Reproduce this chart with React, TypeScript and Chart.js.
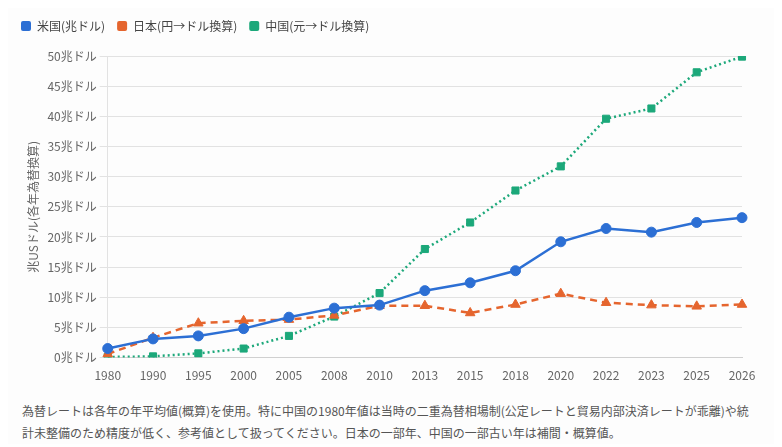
import React, { useEffect, useRef } from "react";
import { Chart, registerables } from "chart.js";

Chart.register(...registerables);

const years = ["1980", "1990", "1995", "2000", "2005", "2008", "2010", "2013", "2015", "2018", "2020", "2022", "2023", "2025", "2026"];
const usValues = [1.5, 3.1, 3.6, 4.8, 6.7, 8.2, 8.7, 11.1, 12.4, 14.4, 19.2, 21.4, 20.8, 22.4, 23.2];
const japanValues = [0.6, 3.3, 5.7, 6.1, 6.3, 7.0, 8.6, 8.6, 7.4, 8.8, 10.6, 9.1, 8.7, 8.5, 8.8];
const chinaValues = [0.1, 0.2, 0.7, 1.5, 3.6, 6.8, 10.7, 18.0, 22.4, 27.7, 31.7, 39.6, 41.3, 47.3, 49.9];
const seriesNames = ["米国(兆ドル)", "日本(円→ドル換算)", "中国(元→ドル換算)"];
const yAxisTitle = "兆USドル(各年為替換算)";
const tickSuffix = "兆ドル";
const footnote = "為替レートは各年の年平均値(概算)を使用。特に中国の1980年値は当時の二重為替相場制(公定レートと貿易内部決済レートが乖離)や統計未整備のため精度が低く、参考値として扱ってください。日本の一部年、中国の一部古い年は補間・概算値。";

const FONT = "'Noto Sans CJK JP', 'Noto Sans', sans-serif";
const BLUE = "#2c6fd4";
const ORANGE = "#e5652e";
const GREEN = "#1ca87a";
const COLORS = [BLUE, ORANGE, GREEN];

const legendMargin = {
  id: "legendMargin",
  beforeInit(chart: any) {
    const orig = chart.legend.fit;
    chart.legend.fit = function () {
      orig.bind(chart.legend)();
      this.height += 14;
    };
  },
};

export default function App() {
  const ref = useRef<HTMLCanvasElement | null>(null);

  useEffect(() => {
    if (!ref.current) return;
    Chart.defaults.font.family = FONT;
    const chart = new Chart(ref.current, {
      type: "line",
      data: {
        labels: years,
        datasets: [
          {
            label: seriesNames[0],
            data: usValues,
            borderColor: BLUE,
            backgroundColor: BLUE,
            borderWidth: 2.5,
            pointStyle: "circle",
            pointRadius: 5,
            pointBorderWidth: 1,
            pointBorderColor: BLUE,
            tension: 0,
          },
          {
            label: seriesNames[1],
            data: japanValues,
            borderColor: ORANGE,
            backgroundColor: ORANGE,
            borderWidth: 2.5,
            borderDash: [7, 5],
            pointStyle: "triangle",
            pointRadius: 5.5,
            pointBorderWidth: 1,
            pointBorderColor: ORANGE,
            tension: 0,
          },
          {
            label: seriesNames[2],
            data: chinaValues,
            borderColor: GREEN,
            backgroundColor: GREEN,
            borderWidth: 2.5,
            borderDash: [2, 3],
            pointStyle: "rect",
            pointRadius: 5,
            pointBorderWidth: 1,
            pointBorderColor: GREEN,
            tension: 0,
          },
        ],
      },
      plugins: [legendMargin],
      options: {
        animation: false,
        responsive: true,
        maintainAspectRatio: false,
        layout: { padding: { left: 1, right: 32, top: 0, bottom: 0 } },
        plugins: {
          legend: {
            position: "top",
            align: "start",
            labels: {
              boxWidth: 10,
              boxHeight: 10,
              useBorderRadius: true,
              borderRadius: 2,
              color: "#444",
              font: { size: 12, family: FONT },
              padding: 12,
              generateLabels: (c: any) =>
                c.data.datasets.map((ds: any, i: number) => ({
                  text: ds.label,
                  fillStyle: COLORS[i],
                  strokeStyle: COLORS[i],
                  lineWidth: 0,
                  lineDash: [],
                  hidden: false,
                  datasetIndex: i,
                  fontColor: "#444",
                  borderRadius: 2,
                })),
            },
          },
          tooltip: { enabled: false },
        },
        scales: {
          x: {
            grid: { display: false },
            border: { display: true, color: "#d0d0d0" },
            ticks: { color: "#666", font: { size: 12, family: FONT }, maxRotation: 0 },
          },
          y: {
            min: 0,
            max: 50,
            ticks: {
              stepSize: 5,
              color: "#666",
              font: { size: 12, family: FONT },
              callback: (v: any) => `${v}${tickSuffix}`,
            },
            grid: { color: "#e2e2e2", tickLength: 8 },
            border: { display: true, color: "#e2e2e2" },
            title: {
              display: true,
              text: yAxisTitle,
              color: "#666",
              font: { size: 12, family: FONT },
              padding: { top: 17, bottom: 4 },
            },
          },
        },
      },
    });
    return () => chart.destroy();
  }, []);

  return (
    <div style={{ background: "#fdfdfd", fontFamily: FONT }}>
      <div style={{ position: "relative", height: 378 }}>
        <canvas ref={ref} />
      </div>
      <p style={{ margin: "14px 14px 0 14px", fontSize: 12, lineHeight: "22px", color: "#555" }}>{footnote}</p>
    </div>
  );
}
